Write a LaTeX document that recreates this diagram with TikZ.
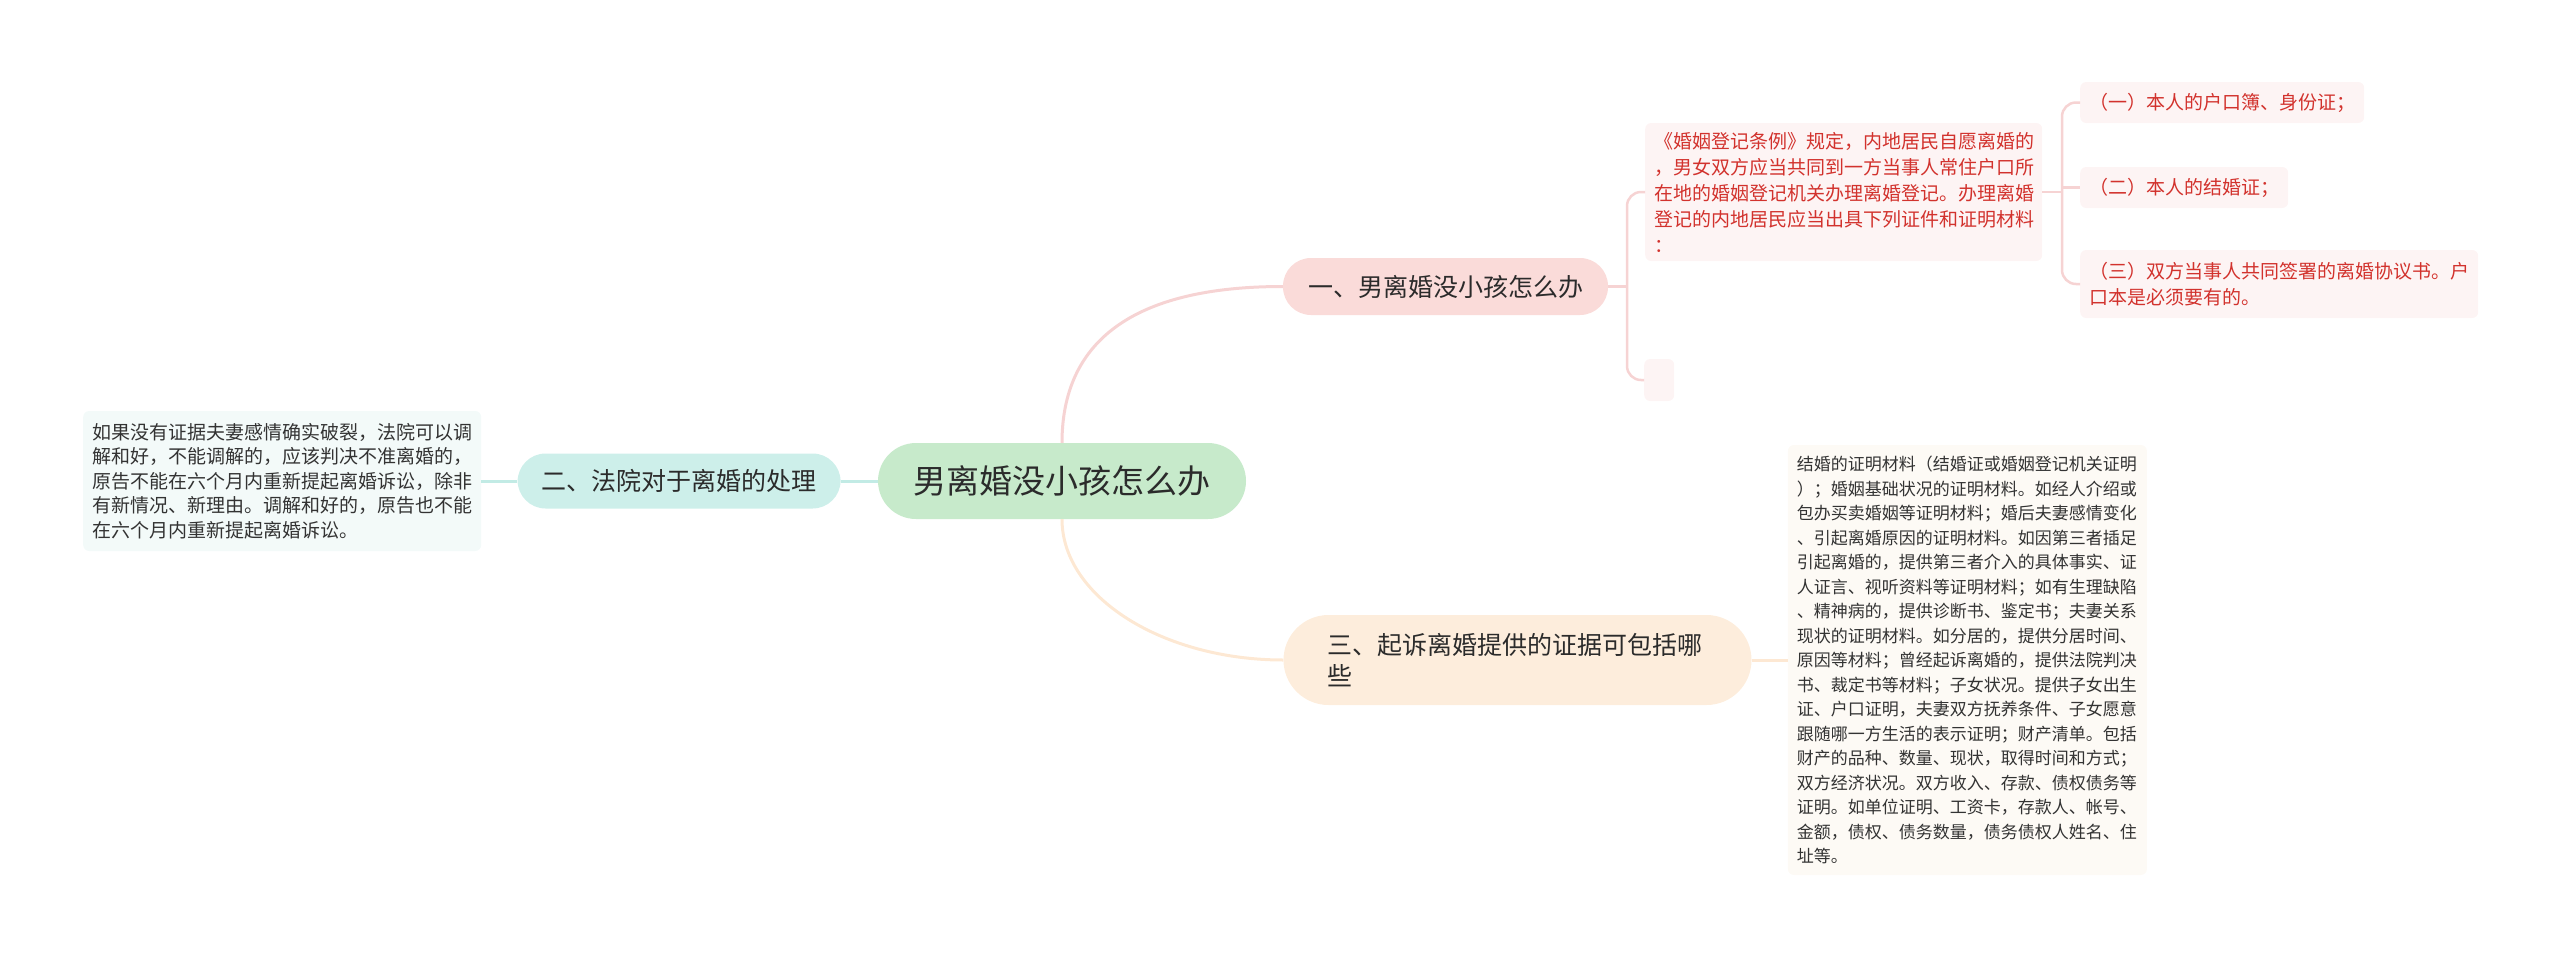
\documentclass[tikz,border=0pt]{standalone}
\usepackage{fontspec}
\setmainfont{Noto Sans CJK SC}
\usepackage{xcolor}
\usepackage{tikz}
\usetikzlibrary{positioning}
\definecolor{rootGreen}{HTML}{C7EACB}
\definecolor{secRed}{HTML}{FADBD9}
\definecolor{secTeal}{HTML}{CDEFEA}
\definecolor{secPeach}{HTML}{FDEDDC}
\definecolor{noteRed}{HTML}{FDF4F4}
\definecolor{noteTeal}{HTML}{F3FAF9}
\definecolor{notePeach}{HTML}{FDFAF5}
\definecolor{inkRed}{HTML}{D2322D}
\definecolor{inkDark}{HTML}{2B2B2B}
\definecolor{inkGray}{HTML}{333333}
\definecolor{linkRed}{HTML}{F6D3D3}
\definecolor{linkTeal}{HTML}{C2EBE5}
\definecolor{linkPeach}{HTML}{FDE8D3}
\tikzset{
    mapRoot/.style={
        fill=rootGreen,
        rounded corners=38pt,
        minimum width=368pt,
        minimum height=76pt,
        text=inkDark,
        font=\fontsize{33}{40}\selectfont
    },
    mapBranch/.style={
        rounded corners=28pt,
        minimum height=57pt,
        text=inkDark,
        font=\fontsize{25}{31}\selectfont
    },
    mapNote/.style={
        rounded corners=6pt,
        align=left,
        inner xsep=9pt,
        inner ysep=0pt,
        text=inkGray,
        font=\fontsize{19}{24.5}\selectfont
    },
    mapRed/.style={
        mapNote,
        fill=noteRed,
        text=inkRed,
        font=\fontsize{19}{26}\selectfont
    },
    mapLink/.style={
        line width=3pt
    },
    mapSub/.style={
        line width=2.5pt,
        draw=linkRed,
        rounded corners=14pt
    }
}
\begin{document}
\begin{tikzpicture}[x=1pt,y=-1pt]
    \useasboundingbox (0,0) rectangle (2560,959);

    \node[mapRoot] (root) at (1062,481) {男离婚没小孩怎么办};
    \node[mapBranch,fill=secRed,minimum width=325pt] (sec1) at (1445.5,286.5) {一、男离婚没小孩怎么办};
    \node[mapBranch,fill=secTeal,minimum width=323pt,minimum height=55pt,left=37pt of root] (sec2) {二、法院对于离婚的处理};
    \node[mapBranch,fill=secPeach,rounded corners=45pt,text width=380pt,inner xsep=44pt,minimum height=90pt,align=left] (sec3) at (1517.5,660) {三、起诉离婚提供的证据可包括哪\\些};

    \node[mapNote,fill=noteTeal,text width=380pt,minimum height=140pt,left=36pt of sec2] (court) {如果没有证据夫妻感情确实破裂，法院可以调\\解和好，不能调解的，应该判决不准离婚的，\\原告不能在六个月内重新提起离婚诉讼，除非\\有新情况、新理由。调解和好的，原告也不能\\在六个月内重新提起离婚诉讼。};

    \node[mapNote,fill=notePeach,text width=341pt,minimum height=430pt,font=\fontsize{17}{24.5}\selectfont,right=36pt of sec3] (proof) {结婚的证明材料（结婚证或婚姻登记机关证明\\）；婚姻基础状况的证明材料。如经人介绍或\\包办买卖婚姻等证明材料；婚后夫妻感情变化\\、引起离婚原因的证明材料。如因第三者插足\\引起离婚的，提供第三者介入的具体事实、证\\人证言、视听资料等证明材料；如有生理缺陷\\、精神病的，提供诊断书、鉴定书；夫妻关系\\现状的证明材料。如分居的，提供分居时间、\\原因等材料；曾经起诉离婚的，提供法院判决\\书、裁定书等材料；子女状况。提供子女出生\\证、户口证明，夫妻双方抚养条件、子女愿意\\跟随哪一方生活的表示证明；财产清单。包括\\财产的品种、数量、现状，取得时间和方式；\\双方经济状况。双方收入、存款、债权债务等\\证明。如单位证明、工资卡，存款人、帐号、\\金额，债权、债务数量，债务债权人姓名、住\\址等。};

    \node[mapRed,text width=379pt,minimum height=138pt,anchor=west] (rule) at (1645,192) {《婚姻登记条例》规定，内地居民自愿离婚的\\，男女双方应当共同到一方当事人常住户口所\\在地的婚姻登记机关办理离婚登记。办理离婚\\登记的内地居民应当出具下列证件和证明材料\\：};
    \node[mapRed,minimum width=30pt,minimum height=42pt,anchor=west] (blank) at (1644,380) {};

    \node[mapRed,minimum height=41pt,anchor=west] (doc1) at (2080,102.5) {（一）本人的户口簿、身份证；};
    \node[mapRed,minimum height=41pt,anchor=west] (doc2) at (2080,187.5) {（二）本人的结婚证；};
    \node[mapRed,text width=380pt,minimum height=68pt,anchor=west] (doc3) at (2080,284) {（三）双方当事人共同签署的离婚协议书。户\\口本是必须要有的。};

    % root links
    \draw[mapLink,draw=linkRed] (root.north) .. controls +(0,-113) and +(-133,0) .. (sec1.west);
    \draw[mapLink,draw=linkPeach] (root.south) .. controls +(0,78) and +(-120,0) .. (sec3.west);
    \draw[mapLink,draw=linkTeal] (root.west) -- (sec2.east);
    \draw[mapLink,draw=linkTeal] (sec2.west) -- (court.east);
    \draw[mapLink,draw=linkPeach] (sec3.east) -- (proof.west);

    % first branch
    \coordinate (j1) at ([xshift=-18pt]rule.west);
    \draw[mapSub] (rule.west) -- (j1) |- (blank.west);
    \draw[mapSub] (sec1.east) -- (sec1.east -| j1);

    \coordinate (j2) at ([xshift=-18pt]doc1.west);
    \draw[mapSub] (doc1.west) -- (j2) |- (doc3.west);
    \draw[mapSub] (j2 |- doc2.west) -- (doc2.west);
    \draw[mapSub] (rule.east) -- (rule.east -| j2);
\end{tikzpicture}
\end{document}
